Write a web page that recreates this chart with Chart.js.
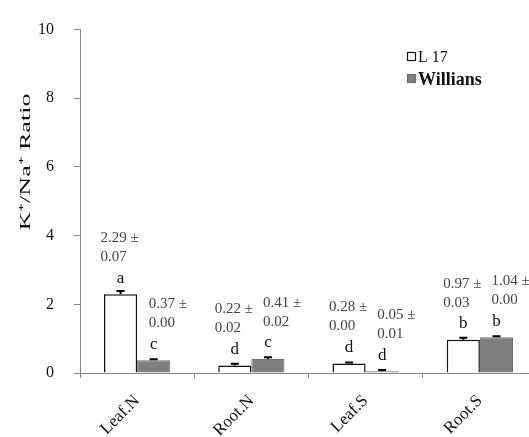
<!DOCTYPE html>
<html>
<head>
<meta charset="utf-8">
<script src="https://cdn.jsdelivr.net/npm/chart.js@4"></script>
<style>
  html, body { margin: 0; padding: 0; background: #fff; overflow: hidden; }
  #wrap { width: 545px; height: 437px; }
</style>
</head>
<body>
<div id="wrap"><canvas id="ratioChart"></canvas></div>
<script>
// data
const categories = ['Leaf.N', 'Root.N', 'Leaf.S', 'Root.S'];
const l17Values = [2.29, 0.22, 0.28, 0.97];
const l17Errors = [0.07, 0.02, 0.00, 0.03];
const l17Letters = ['a', 'd', 'd', 'b'];
const willValues = [0.37, 0.41, 0.05, 1.04];
const willErrors = [0.00, 0.02, 0.01, 0.00];
const willLetters = ['c', 'c', 'd', 'b'];
const yTicks = [0, 2, 4, 6, 8, 10];

const serif = '"Liberation Serif", "Times New Roman", serif';
const errors = [l17Errors, willErrors];
const letters = [l17Letters, willLetters];
const textShift = [-20, -5]; // where the "mean ±" text starts, per series

// error bars + mean ± SE labels + letters
const annotatePlugin = {
  id: 'annotate',
  afterDatasetsDraw(chart) {
    const ctx = chart.ctx;
    const y = chart.scales.y;
    ctx.save();
    chart.data.datasets.forEach((ds, di) => {
      chart.getDatasetMeta(di).data.forEach((bar, i) => {
        const top = bar.y;
        const errTop = y.getPixelForValue(ds.data[i] + errors[di][i]);
        // error bar
        ctx.strokeStyle = '#000';
        ctx.lineWidth = 2;
        ctx.beginPath();
        ctx.moveTo(bar.x, top);
        ctx.lineTo(bar.x, errTop - 1);
        ctx.moveTo(bar.x - 4, errTop - 1);
        ctx.lineTo(bar.x + 4, errTop - 1);
        ctx.stroke();
        // letter
        ctx.fillStyle = '#111';
        ctx.font = '17px ' + serif;
        ctx.textAlign = 'center';
        ctx.textBaseline = 'middle';
        ctx.fillText(letters[di][i], bar.x, top - 16);
        // mean ± se
        ctx.fillStyle = '#444';
        ctx.font = '15px ' + serif;
        const left = bar.x + textShift[di];
        ctx.textAlign = 'left';
        ctx.fillText(ds.data[i].toFixed(2) + ' \u00b1', left, top - 56);
        ctx.fillText(errors[di][i].toFixed(2), left, top - 37);
      });
    });
    // legend
    ctx.textAlign = 'left';
    ctx.textBaseline = 'middle';
    chart.data.datasets.forEach((ds, di) => {
      const ly = 57 + di * 22;
      ctx.fillStyle = ds.backgroundColor;
      ctx.fillRect(407, ly - 5, 9, 9);
      ctx.strokeStyle = ds.borderColor;
      ctx.lineWidth = 1.2;
      ctx.strokeRect(407.5, ly - 4.5, 8, 8);
      ctx.fillStyle = '#111';
      ctx.font = (di === 1 ? 'bold 18px ' : '16px ') + serif;
      ctx.fillText(ds.label, 418, ly + 1);
    });
    // y title, stretched along its length like the source image
    ctx.translate(26, 162);
    ctx.rotate(-Math.PI / 2);
    ctx.textAlign = 'center';
    ctx.font = '15px ' + serif;
    const title = 'K\u207a/Na\u207a Ratio';
    const tw = ctx.measureText(title).width;
    ctx.scale(137 / tw, 1);
    ctx.fillText(title, 0, 0);
    ctx.restore();
  }
};

new Chart(document.getElementById('ratioChart'), {
  type: 'bar',
  data: {
    labels: categories,
    datasets: [{
      label: 'L 17',
      data: l17Values,
      backgroundColor: '#ffffff',
      borderColor: '#111111',
      borderWidth: 1.5,
      categoryPercentage: 0.58,
      barPercentage: 1.0
    }, {
      label: 'Willians',
      data: willValues,
      backgroundColor: '#7f7f7f',
      borderColor: '#6f6f6f',
      borderWidth: 1,
      categoryPercentage: 0.58,
      barPercentage: 1.0
    }]
  },
  options: {
    responsive: true,
    maintainAspectRatio: false,
    animation: false,
    layout: { padding: { top: 20, right: 8, left: 0, bottom: 0 } },
    plugins: {
      legend: { display: false },
      tooltip: { enabled: false }
    },
    scales: {
      x: {
        grid: { offset: true, drawOnChartArea: false, tickLength: 5, color: '#888' },
        border: { color: '#888', width: 1 },
        ticks: {
          color: '#111',
          font: { family: serif, size: 17 },
          minRotation: 45,
          maxRotation: 45,
          padding: 13
        },
        afterFit: (scale) => { scale.height = 64; }
      },
      y: {
        min: 0,
        max: 10,
        afterBuildTicks: (scale) => { scale.ticks = yTicks.map(v => ({ value: v })); },
        grid: { drawOnChartArea: false, tickLength: 6, color: '#888' },
        border: { color: '#888', width: 1 },
        ticks: {
          color: '#111',
          font: { family: serif, size: 16 },
          padding: 20
        },
        afterFit: (scale) => { scale.width = 80; }
      }
    }
  },
  plugins: [annotatePlugin]
});
</script>
</body>
</html>
